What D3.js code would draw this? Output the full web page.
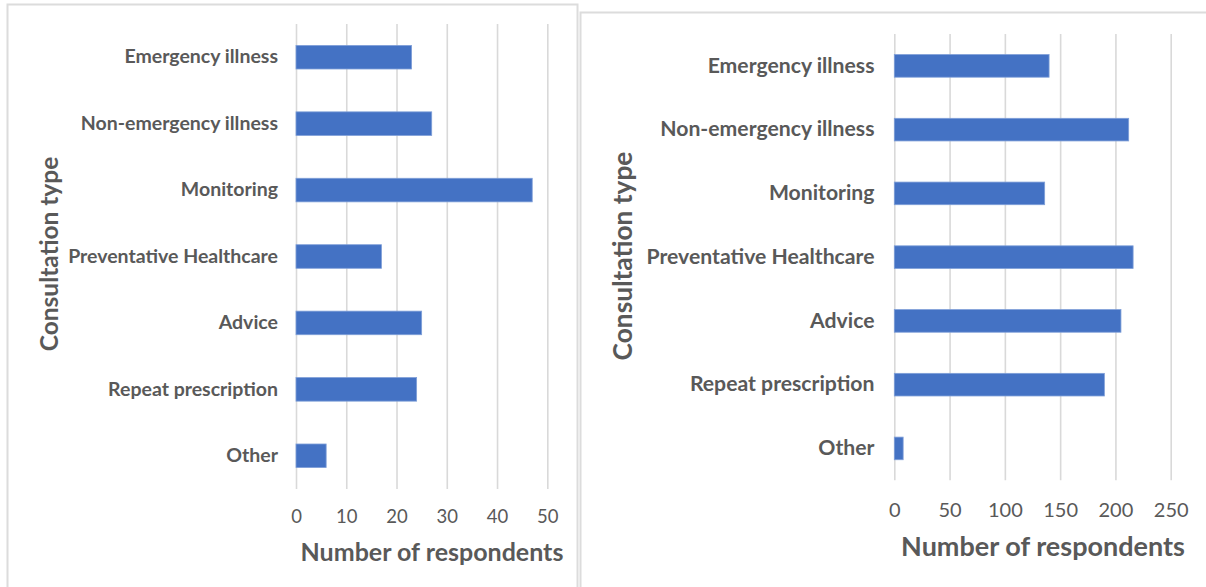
<!DOCTYPE html>
<html>
<head>
<meta charset="utf-8">
<script src="https://cdn.jsdelivr.net/npm/d3@7"></script>
<style>
  html, body { margin: 0; padding: 0; background: #ffffff; }
  svg { display: block; }
  text { font-family: Lato, "Open Sans", sans-serif; fill: #595959; }
</style>
</head>
<body>
<svg id="chart" width="1206" height="587"></svg>
<script>
// Consultation types, top to bottom
const categories = [
  "Emergency illness",
  "Non-emergency illness",
  "Monitoring",
  "Preventative Healthcare",
  "Advice",
  "Repeat prescription",
  "Other"
];

// Respondent counts per consultation type
const leftCounts  = [23, 27, 47, 17, 25, 24, 6];
const rightCounts = [140, 212, 136, 216, 205, 190, 8];

// Axis tick values
const leftTicks  = [0, 10, 20, 30, 40, 50];
const rightTicks = [0, 50, 100, 150, 200, 250];

const xTitle = "Number of respondents";
const yTitle = "Consultation type";

const svg = d3.select("#chart");

function drawPanel(p) {
  const g = svg.append("g");

  // panel frame
  g.append("rect")
    .attr("x", p.frame[0]).attr("y", p.frame[1])
    .attr("width", p.frame[2]).attr("height", p.frame[3])
    .attr("fill", "#ffffff")
    .attr("stroke", "#dcdcdc").attr("stroke-width", 2);

  const x = d3.scaleLinear().domain(p.domain).range([p.x0, p.x1]);
  const y = d3.scaleBand().domain(categories).range([p.y0, p.y1]).padding(0);

  // vertical gridlines
  const grid = g.append("g")
    .attr("transform", `translate(0,${p.y1})`)
    .call(d3.axisBottom(x).tickValues(p.ticks).tickSize(-(p.y1 - p.y0)).tickFormat(""));
  grid.select(".domain").remove();
  grid.selectAll(".tick line").attr("stroke", "#d9d9d9").attr("stroke-width", 1.6);

  // bars
  const barFrac = 0.355;
  g.append("g").selectAll("rect")
    .data(categories.map((c, i) => ({ c, v: p.values[i] })))
    .join("rect")
    .attr("x", x(0))
    .attr("y", d => y(d.c) + y.bandwidth() * (1 - barFrac) / 2)
    .attr("width", d => x(d.v) - x(0))
    .attr("height", y.bandwidth() * barFrac)
    .attr("fill", "#4472c4")
    .attr("stroke", "#7f9fd8")
    .attr("stroke-width", 0.8);

  // category labels
  const yAxis = g.append("g")
    .attr("transform", `translate(${p.labelRight},0)`)
    .call(d3.axisLeft(y).tickSize(0).tickPadding(0));
  yAxis.select(".domain").remove();
  yAxis.selectAll("text")
    .attr("font-family", "Lato, sans-serif")
    .attr("font-size", p.catSize)
    .attr("font-weight", 700)
    .attr("fill", "#5f5f5f");

  // value tick labels
  const xAxis = g.append("g")
    .attr("transform", `translate(0,${p.tickY})`)
    .call(d3.axisBottom(x).tickValues(p.ticks).tickSize(0).tickPadding(0));
  xAxis.select(".domain").remove();
  xAxis.selectAll("text")
    .attr("dy", "0.35em")
    .attr("y", 0)
    .attr("font-family", "Lato, sans-serif")
    .attr("font-size", p.tickSize)
    .attr("fill", "#595959");

  // axis titles
  g.append("text")
    .attr("x", p.xTitlePos[0]).attr("y", p.xTitlePos[1])
    .attr("text-anchor", "middle").attr("dy", "0.35em")
    .attr("font-size", p.titleSize).attr("font-weight", 700)
    .text(xTitle);

  g.append("text")
    .attr("transform", `translate(${p.yTitlePos[0]},${p.yTitlePos[1]}) rotate(-90)`)
    .attr("text-anchor", "middle").attr("dy", "0.35em")
    .attr("font-size", p.yTitleSize).attr("font-weight", 700)
    .text(yTitle);
}

drawPanel({
  frame: [7.5, 4.5, 570, 600],
  domain: [0, 50], ticks: leftTicks, values: leftCounts,
  x0: 296, x1: 547.3, y0: 24, y1: 489,
  labelRight: 278, catSize: 19.5, tickSize: 18.5, tickY: 517,
  titleSize: 25, xTitlePos: [432, 552],
  yTitleSize: 24.5, yTitlePos: [49, 254]
});

drawPanel({
  frame: [580.5, 12.5, 640, 600],
  domain: [0, 250], ticks: rightTicks, values: rightCounts,
  x0: 894.3, x1: 1170.7, y0: 34, y1: 480.3,
  labelRight: 874.5, catSize: 21.2, tickSize: 20, tickY: 510,
  titleSize: 27, xTitlePos: [1043, 547],
  yTitleSize: 26.3, yTitlePos: [623, 256]
});
</script>
</body>
</html>
